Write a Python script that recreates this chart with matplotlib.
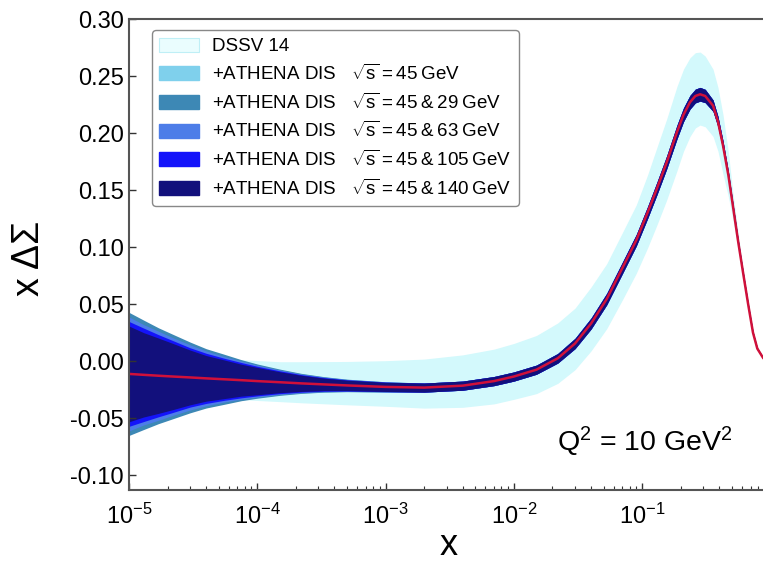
import matplotlib
matplotlib.use("Agg")
import matplotlib.pyplot as plt
import numpy as np
from matplotlib.patches import Patch
from matplotlib.ticker import LogLocator, FixedLocator, FormatStrFormatter, NullFormatter

plt.rcParams['font.family'] = ['Liberation Sans', 'DejaVu Sans']
plt.rcParams['mathtext.fontset'] = 'custom'
plt.rcParams['mathtext.rm'] = 'Liberation Sans'
plt.rcParams['mathtext.it'] = 'Liberation Sans:italic'
plt.rcParams['axes.unicode_minus'] = False

# x grid
x = [1e-5, 1.3e-5, 1.7e-5, 2.2e-5, 3e-5, 4e-5, 5.5e-5, 7.5e-5, 1e-4, 1.5e-4, 2.2e-4,
     3.3e-4, 5e-4, 1e-3, 2e-3, 4e-3, 7e-3, 1e-2, 1.5e-2, 2.2e-2, 3e-2, 4e-2, 5.3e-2,
     7e-2, 0.09, 0.11, 0.13, 0.155, 0.187, 0.21, 0.236, 0.26, 0.283, 0.31, 0.357,
     0.39, 0.427, 0.47, 0.51, 0.56, 0.611, 0.67, 0.731, 0.79, 0.875]

# central value x*DeltaSigma
central = [-0.0112, -0.0120, -0.0128, -0.0135, -0.0143, -0.0151, -0.0159, -0.0167,
           -0.0175, -0.0185, -0.0195, -0.0204, -0.0213, -0.0226, -0.0232, -0.0215,
           -0.0175, -0.0135, -0.0075, 0.0025, 0.0155, 0.0330, 0.0545, 0.0815, 0.1060,
           0.1300, 0.1510, 0.1740, 0.2010, 0.2160, 0.2270, 0.2325, 0.2340, 0.2325,
           0.2240, 0.2100, 0.1890, 0.1630, 0.1360, 0.1050, 0.0780, 0.0500, 0.0250,
           0.0110, 0.0030]

# DSSV 14 band (upper / lower distance from central)
dssv_up = [0.016, 0.016, 0.016, 0.016, 0.017, 0.017, 0.017, 0.018, 0.018, 0.018, 0.019,
           0.020, 0.021, 0.023, 0.025, 0.027, 0.028, 0.029, 0.030, 0.031, 0.031, 0.032,
           0.031, 0.031, 0.031, 0.033, 0.036, 0.038, 0.040, 0.040, 0.039, 0.038, 0.037,
           0.035, 0.032, 0.030, 0.027, 0.020, 0.012, 0.007, 0.004, 0.003, 0.002, 0.001,
           0.001]
dssv_dn = [0.016, 0.016, 0.016, 0.016, 0.016, 0.016, 0.017, 0.017, 0.017, 0.017, 0.017,
           0.017, 0.017, 0.017, 0.018, 0.019, 0.020, 0.020, 0.021, 0.022, 0.023, 0.024,
           0.026, 0.028, 0.029, 0.031, 0.032, 0.033, 0.034, 0.032, 0.030, 0.028, 0.027,
           0.027, 0.027, 0.026, 0.025, 0.019, 0.012, 0.007, 0.004, 0.003, 0.002, 0.001,
           0.001]

# +ATHENA DIS half widths: small-x part (x <= 1e-3) per set, common part above
err_45 = [0.052, 0.046, 0.0405, 0.0355, 0.030, 0.025, 0.021, 0.0175, 0.0145, 0.011,
          0.0085, 0.0066, 0.0053, 0.0045]
err_45_29 = [0.054, 0.048, 0.042, 0.037, 0.031, 0.026, 0.022, 0.018, 0.015, 0.0115,
             0.0088, 0.0068, 0.0055, 0.0045]
err_45_63 = [0.050, 0.044, 0.039, 0.034, 0.0285, 0.024, 0.020, 0.0167, 0.014, 0.0107,
             0.0082, 0.0064, 0.0052, 0.0044]
err_45_105 = [0.046, 0.041, 0.036, 0.0315, 0.026, 0.022, 0.0185, 0.0155, 0.013, 0.010,
              0.0077, 0.0060, 0.0049, 0.0042]
err_45_140 = [0.042, 0.037, 0.033, 0.029, 0.024, 0.020, 0.017, 0.014, 0.012, 0.0092,
              0.0071, 0.0055, 0.0046, 0.0040]
err_tail = [0.004, 0.004, 0.004, 0.004, 0.004, 0.0042, 0.0045, 0.0048, 0.005, 0.005,
            0.005, 0.0052, 0.0055, 0.0057, 0.006, 0.006, 0.006, 0.006, 0.006, 0.0058,
            0.005, 0.0045, 0.004, 0.0033, 0.0025, 0.002, 0.0015, 0.0012, 0.001, 0.0008,
            0.0005]

energies = ['45', '45\u2009&\u200929', '45\u2009&\u200963', '45\u2009&\u2009105',
            '45\u2009&\u2009140']
labels = ['DSSV 14'] + [r'+ATHENA DIS   $\sqrt{\mathrm{s}}$' + '\u2009=\u2009' + e + '\u2009GeV'
                        for e in energies]
colors = ['#d3f9fc', '#7fd0ec', '#3d88b5', '#4d7de8', '#1414fa', '#12107c']

x = np.array(x)
c = np.array(central)

fig = plt.figure(figsize=(7.63, 5.64), dpi=100)
ax = fig.add_axes([0.169, 0.1312, 0.831, 0.8351])

ax.fill_between(x, c + np.array(dssv_up), c - np.array(dssv_dn), color=colors[0], lw=0)
for err, col in zip([err_45, err_45_29, err_45_63, err_45_105, err_45_140], colors[1:]):
    e = np.array(err + err_tail)
    ax.fill_between(x, c + e, c - e, color=col, lw=0)
ax.plot(x, c, color='#d0103a', lw=1.8)

ax.set_xscale('log')
ax.set_xlim(1e-5, 0.875)
ax.set_ylim(-0.113, 0.30)

ax.xaxis.set_major_locator(FixedLocator([1e-5, 1e-4, 1e-3, 1e-2, 1e-1]))
ax.xaxis.set_minor_locator(LogLocator(base=10, subs=np.arange(2, 10), numticks=20))
ax.xaxis.set_minor_formatter(NullFormatter())
ax.yaxis.set_major_locator(FixedLocator(np.arange(-0.10, 0.301, 0.05)))
ax.yaxis.set_major_formatter(FormatStrFormatter('%.2f'))

ax.tick_params(which='major', direction='in', length=5, width=1, labelsize=17,
               colors='#333333', labelcolor='black', top=False, right=False)
ax.tick_params(which='minor', direction='in', length=3, width=0.8, colors='#333333',
               top=False, right=False)
ax.tick_params(axis='x', which='major', pad=10)

for s in ['left', 'bottom', 'top']:
    ax.spines[s].set_color('#555555')
    ax.spines[s].set_linewidth(1.5)
ax.spines['right'].set_visible(False)

# axis titles placed where the reference has them
fig.text(449 / 763, 1 / 564, 'x', fontsize=26, ha='center', va='bottom')
fig.text(29 / 763, 1 - 258 / 564, 'x ΔΣ', fontsize=27, rotation=90,
         ha='center', va='center')

fig.text(733 / 763, 1 - 442 / 564, r'Q$^2$ = 10 GeV$^2$', fontsize=20.5,
         ha='right', va='center')

handles = [Patch(facecolor='#eafdfe', edgecolor='#bfeff6', lw=0.8)]
handles += [Patch(facecolor=col, edgecolor=col) for col in colors[1:]]
leg = ax.legend(handles, labels, loc='upper left', bbox_to_anchor=(0.036, 0.976),
                borderaxespad=0, fontsize=13.5, labelspacing=0.45, handlelength=2.1,
                handleheight=0.75, handletextpad=0.7, borderpad=0.4, frameon=True,
                fancybox=True, framealpha=1, edgecolor='#888888')
leg.get_frame().set_linewidth(1.0)

fig.savefig('out.png', dpi=100)
